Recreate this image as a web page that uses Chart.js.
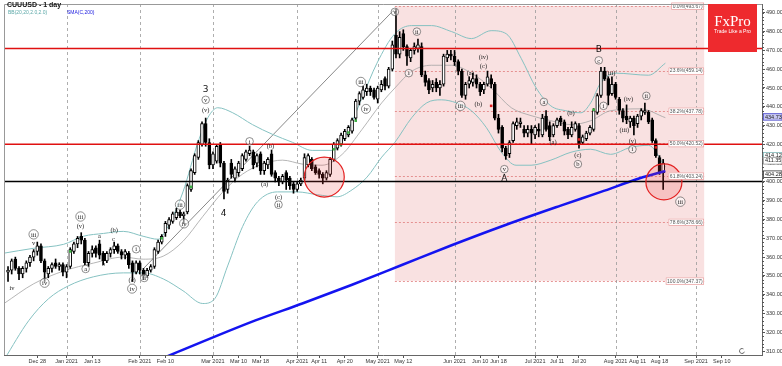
<!DOCTYPE html>
<html>
<head>
<meta charset="utf-8">
<script src="https://cdn.jsdelivr.net/npm/chart.js@4.4.1/dist/chart.umd.min.js"></script>
<style>
  html, body { margin: 0; padding: 0; background: #fff; }
  canvas { display: block; }
</style>
</head>
<body>
<canvas id="chart" width="782" height="366"></canvas>
<script>
// CUUUSD daily candles, day index 0 = 4 Jan 2021 (weekdays)
const firstDay = -16;
const open = [
  352,353,359,354,351,354,357,360,363,366,
  358,351,354,357,355,356,352,355,363,367,
  371,369,357,362,365,367,362,358,362,364,
  366,363,361,362,357,352,357,353,350,353,
  355,363,368,373,377,379,381,384,382,384,
  396,405,413,420,431,421,409,411,420,410,
  396,410,402,405,407,412,415,416,410,415,
  406,409,415,405,402,400,405,402,399,396,
  399,402,409,412,408,406,404,402,404,412,
  418,420,423,425,427,434,443,445,448,450,
  449,444,449,455,451,460,478,468,479,472,
  466,470,471,472,457,454,450,453,450,452,
  466,468,467,464,459,446,452,453,455,452,
  449,452,455,452,434,429,418,415,422,430,
  431,428,426,428,425,428,425,435,430,425,
  430,434,432,428,425,428,430,421,423,426,
  428,437,446,459,455,447,452,444,438,435,
  432,434,431,435,437,437,433,422,413,405
];
const high = [
  355,359,360,355,355,358,361,364,368,367,
  359,355,357,359,357,357,356,365,368,371,
  373,370,363,366,366,369,363,363,365,368,
  367,364,364,363,358,358,358,354,354,356,
  365,369,372,379,381,384,386,385,384,399,
  407,415,422,432,434,423,416,420,421,411,
  402,412,408,411,415,417,419,417,415,416,
  411,413,417,406,403,404,406,403,400,400,
  402,415,415,413,409,407,405,406,413,421,
  423,426,428,430,434,444,448,451,452,451,
  450,451,454,456,461,475,492,480,481,473,
  471,474,476,474,459,455,454,455,454,468,
  470,470,470,465,460,453,456,458,457,453,
  453,459,457,453,436,430,419,422,432,434,
  434,430,430,430,430,431,436,438,432,431,
  434,435,433,429,432,432,431,425,427,430,
  439,447,461,461,456,456,453,445,439,441,
  435,435,436,439,442,438,434,423,414,412
];
const low = [
  347,351,353,348,349,352,355,358,361,357,
  347,349,352,354,353,350,349,354,362,365,
  367,356,355,360,360,359,356,357,360,362,
  362,359,359,354,347,351,351,348,349,352,
  354,362,367,371,375,378,380,381,378,383,
  395,404,412,419,419,407,407,410,408,391,
  394,402,400,403,406,411,414,407,408,404,
  404,407,403,400,398,399,396,396,394,395,
  398,401,408,406,404,402,399,401,403,411,
  417,419,422,424,426,433,441,444,446,446,
  444,442,448,449,450,459,466,466,470,462,
  464,468,469,456,451,447,448,448,446,451,
  464,465,462,457,445,444,450,451,450,446,
  447,451,450,433,426,416,412,413,421,428,
  429,424,424,420,423,424,424,427,422,424,
  429,430,425,423,424,427,418,420,422,425,
  427,436,445,454,441,446,444,436,432,431,
  429,425,429,433,436,431,421,413,404,396
];
const close = [
  353,358,354,351,354,357,360,363,366,358,
  352,354,356,355,356,352,355,364,367,370,
  369,357,362,364,362,361,358,362,364,366,
  363,361,363,356,352,357,353,350,353,355,
  364,368,371,378,380,383,384,382,383,398,
  406,414,421,431,421,409,415,419,410,395,
  401,404,407,410,414,416,417,409,414,406,
  410,412,404,402,400,403,401,398,396,399,
  401,413,414,407,405,404,402,405,412,420,
  422,425,427,429,433,443,447,449,450,448,
  445,450,452,451,460,473,468,477,472,467,
  470,472,473,457,453,449,452,450,452,467,
  468,467,464,459,446,452,454,455,452,448,
  452,456,452,434,428,418,414,421,431,432,
  432,426,428,426,429,427,434,428,424,430,
  433,432,427,425,429,431,420,424,426,429,
  438,446,459,455,446,452,445,438,434,433,
  434,430,435,438,438,432,422,414,405,410
];

// Bollinger bands (20, 2)
const bbUpIdx = [-17.1,-9,-0.8,4.6,10.1,15.5,20.9,25,27.7,31.8,35.9,38.6,41.3,45.4,50.8,56.3,61.7,67.1,72.6,76.6,80.7,84.8,89.7,94.3,99.7,105.2,110.6,116,120.1,124.2,128.3,132.3,136.4,140.5,143.2,145.9,150,159,163.6];
const bbUpVal = [362.1,364.7,366.8,371.1,372.6,373.7,371.1,369.5,376.3,394.7,421.1,434.2,439.5,436.8,430.5,425.3,421.1,416.8,416.8,426.3,444.7,463.2,478.9,483.2,483.2,480,476.3,480.5,478.9,465.8,450,440.5,437.9,436.8,442.1,452.6,457.9,456.8,463.2];
const bbMidIdx = [-17.1,-9,-0.8,7.3,15.5,20.9,26.4,31.8,37.2,42.7,48.1,53.5,59,64.4,69.8,75.3,80.7,86.1,89.7,94.3,99.7,105.2,110.6,116,121.5,126.9,132.3,137.8,143.2,148.6,156.8,163.6];
const bbMidVal = [335.3,345.8,352.6,356.8,360,358.9,360.5,368.4,381.6,394.7,404.2,409.5,411.6,409.5,408.9,414.7,427.9,442.1,450,458.9,462.1,462.1,457.9,450,439.5,435.3,432.6,430.5,432.6,437.9,438.9,434.2];
const bbLowIdx = [-17.1,-10.3,-4.9,0.5,7.3,15.5,20.9,26.4,31.8,37.2,40.5,44,48.1,52.2,57.6,63,68.5,73.9,78,82.1,86.1,89.7,94.3,98.4,102.4,106.5,110.6,114.7,118.8,122.8,126.9,132.3,137.8,143.2,148.6,154.1,159,163.6];
const bbLowVal = [305.3,326.3,337.9,344.7,349.5,351.6,351.6,348.4,342.1,335.3,337.9,355.3,376.3,389.5,394.7,394.7,393.2,392.1,395.8,402.6,413.2,421.1,434.2,442.1,443.7,442.1,437.9,428.9,415.8,408.9,408.9,411.6,415.8,417.4,414.7,418.4,419.5,407.9];

// SMA(C,200)
const smaIdx = [26,51.6,64.4,78,91.6,105.2,118.8,135,146,156.8,163.6];
const smaVal = [306,326.3,335.3,345.3,355.8,366.3,376.3,387.4,394.7,402.1,405.8];

// signal markers
const greenIdx = [1,26,34,73,75,77,79,144];
const greenVal = [363,370,397.4,417.4,420,426.3,432.6,438.4];
const redIdx = [116,140,161];
const redVal = [440.5,422.6,418.4];

// Fibonacci retracement from the May high
const fibPct = ['0.0%','23.6%','38.2%','50.0%','61.8%','78.6%','100.0%'];
const fibVal = [493.67,459.14,437.78,420.52,403.24,378.66,347.37];
const zoneStart = 89.7, zoneEnd = 174.2;

// horizontal levels
const redLevels = [471, 420];
const blackLevel = 400.3;

// trend line
const trendIdx = [20.9, 89.7];
const trendVal = [353.7, 492.1];

// highlight circles
const circleIdx = [70.4, 163.2];
const circleVal = [402.6, 400];

// price tags on the right axis
const tagVal = [434.73, 414.12, 411.35, 404.28];

// x axis
const monthIdx = [0,20,40,63,85,106,128,150,172];
const tickIdx = [-8,0,7,20,27,40,47,53,63,69,76,85,92,106,113,118,128,134,140,150,156,162,172,179];
const tickText = ['Dec 28','Jan 2021','Jan 13','Feb 2021','Feb 10','Mar 2021','Mar 10','Mar 18','Apr 2021','Apr 11','Apr 20','May 2021','May 12','Jun 2021','Jun 10','Jun 18','Jul 2021','Jul 11','Jul 20','Aug 2021','Aug 11','Aug 18','Sep 2021','Sep 10'];
const yTicks = [310,320,330,340,350,360,370,380,390,400,410,420,430,440,450,460,470,480,490];

// Elliott wave labels: c = circled, p = plain, b = big
const waveText = ['iv','v','iii','iv','a','iii','(v)','a','b','(b)','c','i','(c)','iv','ii','iii','iv','3','v','(v)','4','i','(b)','(a)','(c)','ii','iii','iv','v','ii','i','iii','(a)','(iv)','(c)','(b)','v','A','a','(a)','(b)','(c)','b','B','c','(iii)','i','(iv)','(iii)','(v)','i','ii','iii'];
const waveKind = ['p','p','c','c','c','c','p','p','p','p','p','c','p','c','c','c','c','b','c','p','b','c','p','p','p','c','c','c','c','c','c','c','p','p','p','p','c','b','c','p','p','p','c','b','c','p','c','p','p','p','c','c','c'];
const waveIdx = [-14.9,-9,-9,-6,5.2,3.8,3.8,9,10.1,13,12.8,19,17.9,17.9,21.2,31,32.1,38,38,38,42.9,50,55.7,54.1,57.9,57.9,80.4,81.8,89.7,95.7,93.5,107.6,110.3,113.9,113.9,112.5,119.6,119.6,130.4,132.9,137.8,139.7,139.7,145.4,145.4,148.6,146.7,153.5,152.4,154.6,154.6,158.4,167.7];
const wavePrice = [343.7,367.4,372.1,346.3,353.7,381.6,376.8,371.1,356.3,374.7,370,364.2,347.9,343.2,348.9,387.9,377.9,449,443.7,438.4,383.2,421.6,419,398.9,392.1,387.9,453.2,438.9,490.5,480,457.9,440.5,457.9,466.8,461.6,441.6,406.8,401.6,442.6,421.1,436.8,414.2,409.5,470.5,464.7,457.9,440.5,444.2,427.9,422.1,417.4,445.8,389.5];

const days = open.map((_, k) => firstDay + k);
const pts = (xs, ys) => xs.map((v, k) => ({ x: v, y: ys[k] }));

function hline(ctx, x0, x1, yy) {
    ctx.beginPath(); ctx.moveTo(x0, yy); ctx.lineTo(x1, yy); ctx.stroke();
}

const overlay = {
    id: 'overlay',
    beforeDatasetsDraw(chart) {
        const { ctx, chartArea: a, scales: { x, y } } = chart;
        ctx.save();
        // fib zone
        const zx0 = x.getPixelForValue(zoneStart), zx1 = x.getPixelForValue(zoneEnd);
        const zy0 = y.getPixelForValue(fibVal[0]), zy1 = y.getPixelForValue(fibVal[fibVal.length - 1]);
        ctx.fillStyle = '#f9e1e1';
        ctx.fillRect(zx0, zy0, zx1 - zx0, zy1 - zy0);
        ctx.strokeStyle = '#e07c7c';
        ctx.lineWidth = 0.8;
        ctx.setLineDash([2, 2]);
        fibVal.forEach(v => hline(ctx, zx0, zx1, Math.round(y.getPixelForValue(v)) + 0.5));
        // month separators
        ctx.strokeStyle = '#9a9a9a';
        ctx.setLineDash([3, 3]);
        monthIdx.forEach(m => {
            const px = Math.round(x.getPixelForValue(m)) + 0.5;
            ctx.beginPath(); ctx.moveTo(px, a.top); ctx.lineTo(px, a.bottom); ctx.stroke();
        });
        ctx.setLineDash([]);
        // trend line
        ctx.strokeStyle = '#555';
        ctx.lineWidth = 0.7;
        ctx.beginPath();
        ctx.moveTo(x.getPixelForValue(trendIdx[0]), y.getPixelForValue(trendVal[0]));
        ctx.lineTo(x.getPixelForValue(trendIdx[1]), y.getPixelForValue(trendVal[1]));
        ctx.stroke();
        ctx.restore();
    },
    afterDatasetsDraw(chart) {
        const { ctx, chartArea: a, scales: { x, y } } = chart;
        ctx.save();
        // levels
        ctx.lineWidth = 1.5;
        ctx.strokeStyle = '#e01010';
        redLevels.forEach(v => hline(ctx, a.left, a.right, y.getPixelForValue(v)));
        ctx.strokeStyle = '#000';
        hline(ctx, a.left, a.right, y.getPixelForValue(blackLevel));
        // circles
        const radii = [20, 18];
        circleIdx.forEach((c, k) => {
            ctx.beginPath();
            ctx.arc(x.getPixelForValue(c), y.getPixelForValue(circleVal[k]), radii[k], 0, Math.PI * 2);
            ctx.fillStyle = 'rgba(240,60,60,0.18)';
            ctx.fill();
            ctx.strokeStyle = '#e32020';
            ctx.lineWidth = 1.2;
            ctx.stroke();
        });
        // fib labels
        const zx1 = x.getPixelForValue(zoneEnd);
        ctx.font = '5px "Liberation Sans"';
        ctx.textBaseline = 'middle';
        ctx.textAlign = 'right';
        fibVal.forEach((v, k) => {
            const t = fibPct[k] + '(' + v.toFixed(2) + ')';
            const w = ctx.measureText(t).width + 3;
            const py = y.getPixelForValue(v);
            ctx.fillStyle = '#fff';
            ctx.fillRect(zx1 - w, py - 3.5, w, 7);
            ctx.strokeStyle = '#e89a9a';
            ctx.lineWidth = 0.7;
            ctx.strokeRect(zx1 - w + 0.5, py - 3, w - 1, 6.5);
            ctx.fillStyle = '#555';
            ctx.fillText(t, zx1 - 1.5, py + 0.3);
        });
        // wave labels
        ctx.textAlign = 'center';
        waveText.forEach((t, k) => {
            const px = x.getPixelForValue(waveIdx[k]);
            const py = y.getPixelForValue(wavePrice[k]);
            if (waveKind[k] === 'b') {
                ctx.font = '9px "DejaVu Sans"';
                ctx.fillStyle = '#111';
                ctx.fillText(t, px, py);
                return;
            }
            ctx.font = '6.5px "Liberation Serif"';
            if (waveKind[k] === 'c') {
                const r = Math.max(3.8, ctx.measureText(t).width / 2 + 2);
                ctx.beginPath();
                ctx.arc(px, py, r, 0, Math.PI * 2);
                ctx.fillStyle = 'rgba(255,255,255,0.5)';
                ctx.fill();
                ctx.strokeStyle = '#444';
                ctx.lineWidth = 0.6;
                ctx.stroke();
            }
            ctx.fillStyle = '#222';
            ctx.fillText(t, px, py + 0.5);
        });
        ctx.restore();
    },
    afterDraw(chart) {
        const { ctx, chartArea: a, scales: { y } } = chart;
        ctx.save();
        // frame
        ctx.strokeStyle = '#999';
        ctx.lineWidth = 1;
        ctx.beginPath();
        ctx.moveTo(a.left + 0.5, a.bottom); ctx.lineTo(a.left + 0.5, a.top + 0.5); ctx.lineTo(a.right, a.top + 0.5);
        ctx.stroke();
        // minor ticks
        ctx.strokeStyle = '#555';
        for (let v = 310; v < 494; v += 2) {
            const py = Math.round(y.getPixelForValue(v)) + 0.5;
            hline(ctx, a.right, a.right + 2, py);
        }
        // titles
        ctx.textAlign = 'left';
        ctx.textBaseline = 'middle';
        ctx.font = 'bold 7px "Liberation Sans"';
        ctx.fillStyle = '#111';
        ctx.fillText('CUUUSD - 1 day', a.left + 3, 5);
        ctx.font = '5px "Liberation Sans"';
        ctx.fillStyle = '#5aa7a7';
        ctx.fillText('BB(20,20,2.0,2.0)', a.left + 4, 13);
        ctx.fillStyle = '#2020e0';
        ctx.fillText('SMA(C,200)', a.left + 63, 13);
        // logo
        const lx = a.right - 54;
        ctx.fillStyle = '#ee2a2e';
        ctx.fillRect(lx, a.top, 49, 48);
        ctx.fillStyle = '#fff';
        ctx.textAlign = 'center';
        ctx.font = '15px "Liberation Serif"';
        ctx.fillText('FxPro', lx + 24.5, 22);
        ctx.font = '5px "Liberation Sans"';
        ctx.fillText('Trade Like a Pro', lx + 24.5, 32);
        // price tags
        const tagFill = ['#c9c9f3', '#ffffff', '#ffffff', '#ffffff'];
        const tagLine = ['#5050d0', '#7fb9b9', '#9a9a9a', '#333333'];
        ctx.font = '5.5px "Liberation Sans"';
        ctx.textAlign = 'left';
        tagVal.forEach((v, k) => {
            const py = y.getPixelForValue(v);
            ctx.fillStyle = tagFill[k];
            ctx.fillRect(a.right + 1, py - 3.5, 19, 7);
            ctx.strokeStyle = tagLine[k];
            ctx.lineWidth = 0.8;
            ctx.strokeRect(a.right + 1.5, py - 3, 18.5, 6.5);
            ctx.fillStyle = '#222';
            ctx.fillText(v.toFixed(2), a.right + 3, py + 0.3);
        });
        // refresh glyph
        ctx.strokeStyle = '#444';
        ctx.lineWidth = 0.8;
        ctx.beginPath();
        ctx.arc(a.right - 20, a.bottom - 4, 2.5, 0.3, Math.PI * 1.7);
        ctx.stroke();
        ctx.restore();
    }
};

new Chart(document.getElementById('chart'), {
    type: 'bar',
    data: {
        datasets: [
            {
                type: 'line', data: pts(smaIdx, smaVal), borderColor: '#1414f0', borderWidth: 2.5,
                pointRadius: 0, cubicInterpolationMode: 'monotone', order: 0
            },
            {
                type: 'line', data: pts(greenIdx, greenVal), showLine: false, pointStyle: 'rect',
                pointRadius: 1.8, pointBackgroundColor: '#3cb043', pointBorderWidth: 0, order: -1
            },
            {
                type: 'line', data: pts(redIdx, redVal), showLine: false, pointStyle: 'rect',
                pointRadius: 1.8, pointBackgroundColor: '#e02020', pointBorderWidth: 0, order: -1
            },
            {
                data: days.map((d, k) => ({ x: d, y: [open[k], close[k]] })),
                backgroundColor: close.map((c, k) => c >= open[k] ? '#ffffff' : '#000000'),
                borderColor: '#000', borderWidth: 1, borderSkipped: false,
                barThickness: 3, grouped: false, order: 1
            },
            {
                data: days.map((d, k) => ({ x: d, y: [low[k], high[k]] })),
                backgroundColor: '#000', borderWidth: 0,
                barThickness: 1, grouped: false, order: 2
            },
            {
                type: 'line', data: pts(bbUpIdx, bbUpVal), borderColor: '#86c2c2', borderWidth: 1,
                pointRadius: 0, cubicInterpolationMode: 'monotone', order: 3
            },
            {
                type: 'line', data: pts(bbMidIdx, bbMidVal), borderColor: '#a3a3a3', borderWidth: 0.8,
                pointRadius: 0, cubicInterpolationMode: 'monotone', order: 3
            },
            {
                type: 'line', data: pts(bbLowIdx, bbLowVal), borderColor: '#86c2c2', borderWidth: 1,
                pointRadius: 0, cubicInterpolationMode: 'monotone', order: 3
            }
        ]
    },
    options: {
        responsive: false,
        animation: false,
        devicePixelRatio: 1,
        layout: { padding: 0 },
        plugins: { legend: { display: false }, tooltip: { enabled: false } },
        scales: {
            x: {
                type: 'linear', min: -17.1, max: 190, offset: false,
                grid: { drawOnChartArea: false, tickLength: 3, color: '#555', offset: false },
                border: { color: '#666' },
                ticks: {
                    font: { size: 5.5, family: 'Liberation Sans' }, color: '#333', padding: 0,
                    maxRotation: 0, autoSkip: false,
                    callback: v => { const k = tickIdx.indexOf(v); return k >= 0 ? tickText[k] : ''; }
                },
                afterBuildTicks: s => { s.ticks = tickIdx.map(v => ({ value: v })); },
                afterFit: s => { s.height = 11; s.paddingLeft = 0; s.paddingRight = 0; }
            },
            y: {
                position: 'right', min: 307.9, max: 494.7,
                grid: { drawOnChartArea: false, tickLength: 3, color: '#555' },
                border: { color: '#666' },
                ticks: {
                    font: { size: 5.5, family: 'Liberation Sans' }, color: '#333', padding: 1,
                    callback: v => v.toFixed(2)
                },
                afterBuildTicks: s => { s.ticks = yTicks.map(v => ({ value: v })); },
                afterFit: s => { s.width = 20; s.paddingTop = 0; s.paddingBottom = 0; }
            }
        }
    },
    plugins: [overlay]
});
</script>
</body>
</html>
